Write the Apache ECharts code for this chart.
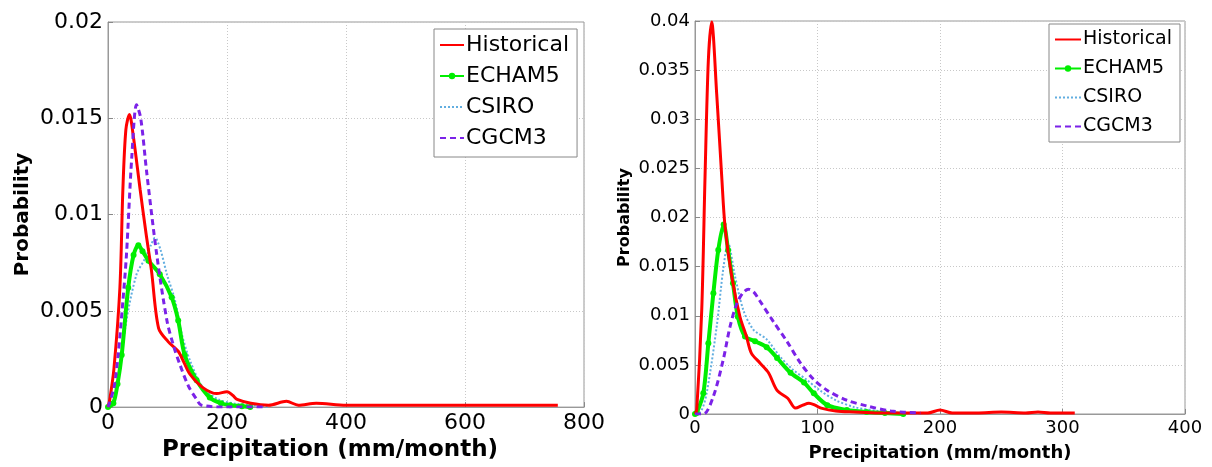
<!DOCTYPE html>
<html>
<head>
<meta charset="utf-8">
<script src="https://cdn.jsdelivr.net/npm/echarts@6/dist/echarts.min.js"></script>
<style>html,body{margin:0;padding:0;background:#fff}#c{width:1212px;height:467px}</style>
</head>
<body>
<div id="c"></div>
<script>
// ---------- Data ----------
const seriesNames = ['Historical', 'ECHAM5', 'CSIRO', 'CGCM3'];

// Left panel
const leftHistX = [0,3,10,20,25,30,36,42,54,64,73,85,101,118,128,138,160,183,200,210,217,240,270,300,320,350,400,500,600,700,756];
const leftHistY = [0,0.0004,0.002,0.0062,0.0113,0.0144,0.0152,0.0142,0.0113,0.009,0.0071,0.0041,0.0034,0.0029,0.0023,0.0017,0.001,0.0007,0.0008,0.0006,0.0004,0.0002,0.0001,0.0003,0.0001,0.0002,0.0001,0.0001,0.0001,0.0001,0.0001];
const leftEchamX = [0,9,16,23,34,43,51,58,68,87,107,118,129,149,171,190,205,225,239];
const leftEchamY = [0,0.0002,0.0012,0.0027,0.0062,0.0079,0.0084,0.0081,0.0076,0.0069,0.0057,0.0045,0.0027,0.0014,0.0005,0.0002,0.0001,0.00005,0];
const leftCsiroX = [0,8,15,31,48,62,72,79,88,99,113,124,138,160,185,210,240,269];
const leftCsiroY = [0,0.0003,0.001,0.0045,0.0069,0.0077,0.0084,0.0088,0.0082,0.0069,0.0055,0.0038,0.0024,0.001,0.0004,0.0002,0.0001,0];
const leftCgcmX = [0,10,17,25,31,40,48,55,65,82,99,110,121,135,149,157,200,260];
const leftCgcmY = [0,0.001,0.0027,0.0055,0.0079,0.013,0.0157,0.015,0.0122,0.0079,0.0045,0.0032,0.0022,0.0011,0.0004,0.0001,0,0];

// Right panel
const rightHistX = [0,1.4,5.5,8.2,10.9,13.6,17.7,21.8,24.5,30,36.7,42,46,53,60,67,75.7,82,88,93,98,103,115,130,150,170,190,200,210,230,250,270,280,290,310];
const rightHistY = [0,0.0004,0.0106,0.0242,0.036,0.0399,0.0326,0.0242,0.0191,0.014,0.0099,0.0079,0.0062,0.0052,0.0042,0.0024,0.0016,0.0006,0.0009,0.0011,0.0009,0.0006,0.0003,0.0002,0.0001,0.0001,0.0001,0.0004,0.0001,0.0001,0.0002,0.0001,0.0002,0.0001,0.0001];
const rightEchamX = [0,1.4,6.8,10.9,15,19,23.4,27,31,35,40.8,49,58.5,67,78,89,97,108,124,140,155,170];
const rightEchamY = [0,0.0001,0.0021,0.0072,0.0123,0.0167,0.0193,0.0167,0.0133,0.0099,0.0079,0.0074,0.0068,0.0057,0.0042,0.0032,0.0021,0.0009,0.0004,0.0002,0.0001,0];
const rightCsiroX = [0,5,9.5,17.7,23,27,32.7,39.4,47.6,58.5,69,80,91,102,115,130,150,170,184];
const rightCsiroY = [0,0.0003,0.0021,0.0089,0.0147,0.0174,0.014,0.0106,0.0086,0.0076,0.0059,0.0045,0.0035,0.0024,0.0014,0.0007,0.0003,0.0001,0];
const rightCgcmX = [0,7,15,23,28.6,34,39,43.5,48,53,64,75,86,97,108,124,141,160,184];
const rightCgcmY = [0,0,0.0018,0.0055,0.0089,0.0112,0.0123,0.0127,0.0124,0.0115,0.0094,0.0074,0.0052,0.0035,0.0024,0.0014,0.0008,0.0003,0.0001];

const xTitle = 'Precipitation (mm/month)';
const yTitle = 'Probability';

// ---------- Build ----------
const zip = (xs, ys) => xs.map((x, i) => [x, ys[i]]);
const FONT = 'DejaVu Sans';
const colors = { Historical: '#ff0000', ECHAM5: '#00ee00', CSIRO: '#62aee0', CGCM3: '#7b22e8' };

function mkSeries(name, data, idx) {
  const base = { name, type: 'line', xAxisIndex: idx, yAxisIndex: idx, data, smooth: 0.3, color: colors[name], z: 3, animation: false };
  if (name === 'Historical') return Object.assign(base, { symbol: 'none', lineStyle: { width: 3, color: colors[name] }, z: 4 });
  if (name === 'ECHAM5') return Object.assign(base, { symbol: 'circle', symbolSize: 6, showSymbol: true, showAllSymbol: true, itemStyle: { color: colors[name] }, lineStyle: { width: 4, color: colors[name] }, z: 3 });
  if (name === 'CSIRO') return Object.assign(base, { symbol: 'none', lineStyle: { width: 2, type: [2, 2], color: colors[name] }, z: 2 });
  return Object.assign(base, { symbol: 'none', lineStyle: { width: 3, type: [6, 4], color: colors[name] }, z: 5 });
}

const yFmt = v => v === 0 ? '0' : String(+v.toFixed(4));

function axes(idx, xmax, ymax, yInt, fs, nameFs, yNameFs, xGap, yGap, xPad) {
  const tickStyle = { show: true, inside: true, length: 5, lineStyle: { color: '#888' } };
  const split = { show: true, lineStyle: { type: [1, 2], color: '#c8c8c8', width: 1 } };
  return {
    x: { type: 'value', gridIndex: idx, min: 0, max: xmax, interval: xmax === 800 ? 200 : 100,
      axisLine: { show: true, onZero: false, lineStyle: { color: '#999' } }, axisTick: tickStyle, splitLine: split,
      axisLabel: { fontFamily: FONT, fontSize: fs, color: '#000', margin: 5 },
      name: xTitle, nameLocation: 'middle', nameGap: xGap,
      nameTextStyle: { fontFamily: FONT, fontWeight: 'bold', fontSize: nameFs, color: '#000', padding: xPad } },
    y: { type: 'value', gridIndex: idx, min: 0, max: ymax, interval: yInt,
      axisLine: { show: true, lineStyle: { color: '#999' } }, axisTick: tickStyle, splitLine: split,
      axisLabel: { fontFamily: FONT, fontSize: fs, color: '#000', margin: 5, formatter: yFmt },
      name: yTitle, nameLocation: 'middle', nameGap: yGap, nameRotate: 90,
      nameTextStyle: { fontFamily: FONT, fontWeight: 'bold', fontSize: yNameFs, color: '#000' } }
  };
}

const aL = axes(0, 800, 0.02, 0.005, 22, 23, 20, 26, 75, [0, 32, 0, 0]);
const aR = axes(1, 400, 0.04, 0.005, 18, 18, 16, 30, 62, [0, 0, 0, 0]);

const legendItems = seriesNames.map(n => n === 'ECHAM5'
  ? { name: n, itemStyle: { color: colors[n] } }
  : { name: n, itemStyle: { opacity: 0 } });

function legend(left, top, fs, gap, pad, iw) {
  return {
    data: legendItems, orient: 'vertical', left, top, padding: pad, itemGap: gap,
    itemWidth: iw, itemHeight: 8, borderColor: '#888', borderWidth: 1, backgroundColor: '#fff',
    textStyle: { fontFamily: FONT, fontSize: fs, color: '#000', lineHeight: fs, padding: [0, 0, 0, -3] },
    selectedMode: false
  };
}

const option = {
  backgroundColor: '#fff',
  animation: false,
  grid: [
    { left: 108, top: 22, width: 476, height: 388, show: true, borderColor: '#999', borderWidth: 1, backgroundColor: 'transparent' },
    { left: 695, top: 21, width: 490, height: 393, show: true, borderColor: '#999', borderWidth: 1, backgroundColor: 'transparent' }
  ],
  xAxis: [aL.x, aR.x],
  yAxis: [aL.y, aR.y],
  legend: [legend(434, 29, 22, 9, [5, 8, 8, 5], 24), legend(1049, 24, 19, 10, [6, 8, 6, 5], 26)],
  series: [
    mkSeries('CSIRO', zip(leftCsiroX, leftCsiroY), 0),
    mkSeries('ECHAM5', zip(leftEchamX, leftEchamY), 0),
    mkSeries('Historical', zip(leftHistX, leftHistY), 0),
    mkSeries('CGCM3', zip(leftCgcmX, leftCgcmY), 0),
    mkSeries('CSIRO', zip(rightCsiroX, rightCsiroY), 1),
    mkSeries('ECHAM5', zip(rightEchamX, rightEchamY), 1),
    mkSeries('CGCM3', zip(rightCgcmX, rightCgcmY), 1),
    mkSeries('Historical', zip(rightHistX, rightHistY), 1)
  ]
};

const chart = echarts.init(document.getElementById('c'), null, { renderer: 'canvas' });
chart.setOption(option);
</script>
</body>
</html>
